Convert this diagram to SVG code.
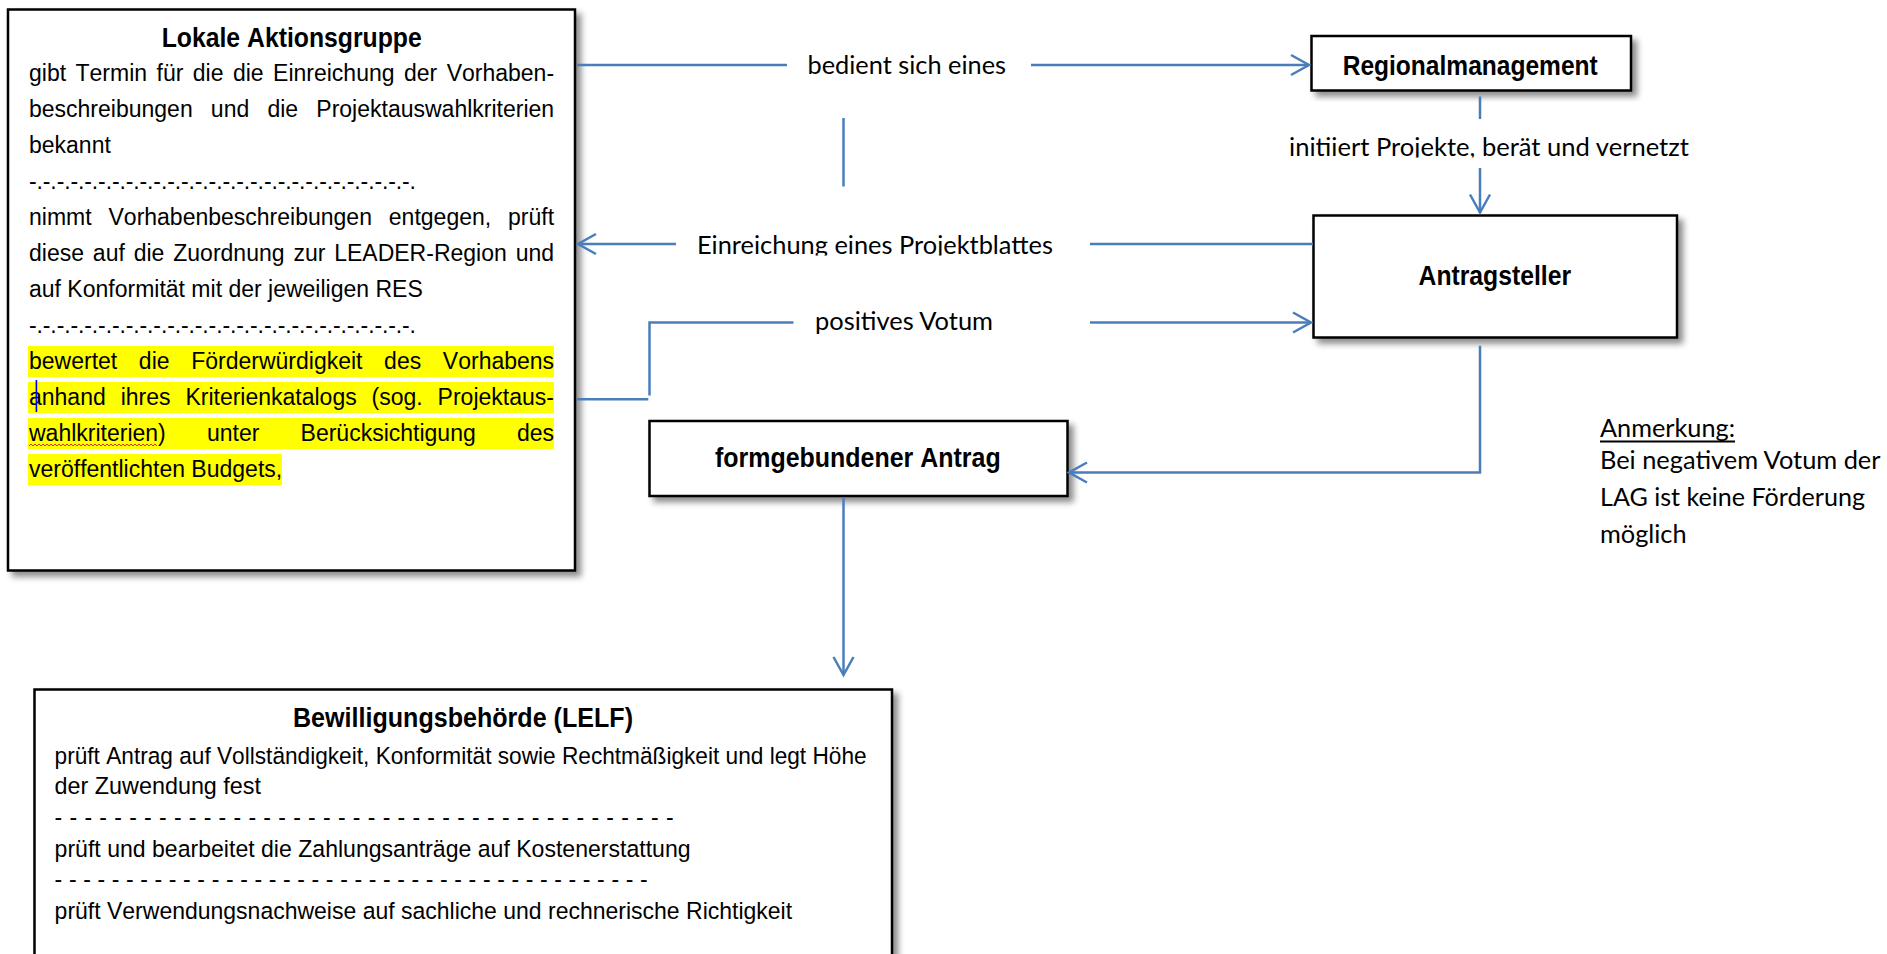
<svg xmlns="http://www.w3.org/2000/svg" width="1887" height="954" viewBox="0 0 1887 954">
<defs>
<filter id="sh" x="-5%" y="-10%" width="115%" height="130%">
<feGaussianBlur in="SourceAlpha" stdDeviation="3"/>
<feOffset dx="5" dy="5" result="b"/>
<feFlood flood-color="#000" flood-opacity="0.45"/>
<feComposite in2="b" operator="in"/>
<feMerge><feMergeNode/><feMergeNode in="SourceGraphic"/></feMerge>
</filter>
<marker id="arr" viewBox="-21 -12 24 24" refX="0" refY="0" markerWidth="24" markerHeight="24" markerUnits="userSpaceOnUse" orient="auto">
<path d="M-18,-10 L0,0 L-18,10" fill="none" stroke="#4A7EBB" stroke-width="2.5"/>
</marker>
<clipPath id="clipE"><rect x="680" y="220" width="400" height="35.5"/></clipPath>
<clipPath id="clipI"><rect x="1270" y="125" width="440" height="32.5"/></clipPath>
</defs>
<style>
.box{fill:#fff;stroke:#000;stroke-width:2.5}
.ln{fill:none;stroke:#4A7EBB;stroke-width:2.5}
.t{font-family:"Liberation Sans",Arial,sans-serif;font-size:23px;fill:#000;font-kerning:none}
.tb{font-family:"Liberation Sans",Arial,sans-serif;font-size:24.5px;fill:#000;font-kerning:none}
.h{font-family:"Liberation Sans",Arial,sans-serif;font-size:27px;font-weight:bold;fill:#000;font-kerning:none}
.l{font-family:Lato,"Liberation Sans",sans-serif;font-size:24.5px;fill:#000}
.hl{fill:#ffff00}
</style>
<rect width="1887" height="954" fill="#fff"/>

<g id="lag">
<rect class="box" x="8" y="9.5" width="567" height="561" filter="url(#sh)"/>
<rect class="hl" x="28" y="346" width="526" height="31"/>
<rect class="hl" x="28" y="382" width="526" height="31"/>
<rect class="hl" x="28" y="418" width="526" height="31"/>
<rect class="hl" x="28" y="454" width="254" height="31"/>
<text class="h" x="291.7" y="47" text-anchor="middle" textLength="260" lengthAdjust="spacingAndGlyphs">Lokale Aktionsgruppe</text>
<text class="t" x="29" y="81" word-spacing="3.05">gibt Termin für die die Einreichung der Vorhaben-</text>
<text class="t" x="29" y="117" word-spacing="11.8">beschreibungen und die Projektauswahlkriterien</text>
<text class="t" x="29" y="153">bekannt</text>
<text class="t" x="29" y="189" textLength="387" lengthAdjust="spacing">-.-.-.-.-.-.-.-.-.-.-.-.-.-.-.-.-.-.-.-.-.-.-.-.-.-.-.-.</text>
<text class="t" x="29" y="225" word-spacing="10.5">nimmt Vorhabenbeschreibungen entgegen, prüft</text>
<text class="t" x="29" y="261" word-spacing="2.48">diese auf die Zuordnung zur LEADER-Region und</text>
<text class="t" x="29" y="297">auf Konformität mit der jeweiligen RES</text>
<text class="t" x="29" y="333" textLength="387" lengthAdjust="spacing">-.-.-.-.-.-.-.-.-.-.-.-.-.-.-.-.-.-.-.-.-.-.-.-.-.-.-.-.</text>
<text class="t" x="29" y="369" word-spacing="15.25">bewertet die Förderwürdigkeit des Vorhabens</text>
<text class="t" x="29" y="405" word-spacing="8.5">anhand ihres Kriterienkatalogs (sog. Projektaus-</text>
<text class="t" x="29" y="441" word-spacing="34.8">wahlkriterien) unter Berücksichtigung des</text>
<text class="t" x="29" y="477">veröffentlichten Budgets,</text>
<line x1="36.4" y1="380" x2="36.4" y2="412" stroke="#0000ff" stroke-width="1.6"/>
<polyline points="29,446 31,444 33,446 35,444 37,446 39,444 41,446 43,444 45,446 47,444 49,446 51,444 53,446 55,444 57,446 59,444 61,446 63,444 65,446 67,444 69,446 71,444 73,446 75,444 77,446 79,444 81,446 83,444 85,446 87,444 89,446 91,444 93,446 95,444 97,446 99,444 101,446 103,444 105,446 107,444 109,446 111,444 113,446 115,444 117,446 119,444 121,446 123,444 125,446 127,444 129,446 131,444 133,446 135,444 137,446 139,444 141,446 143,444 145,446 147,444 149,446 151,444 153,446 155,444 157,446" fill="none" stroke="#e03020" stroke-width="1"/>
</g>

<g id="regionalmanagement">
<rect class="box" x="1311.5" y="36" width="319.5" height="54.5" filter="url(#sh)"/>
<text class="h" x="1470.2" y="75" text-anchor="middle" textLength="255" lengthAdjust="spacingAndGlyphs">Regionalmanagement</text>
</g>

<g id="antragsteller">
<rect class="box" x="1313.5" y="215.5" width="363.5" height="122" filter="url(#sh)"/>
<text class="h" x="1494.8" y="285" text-anchor="middle" textLength="152.5" lengthAdjust="spacingAndGlyphs">Antragsteller</text>
</g>

<g id="antrag">
<rect class="box" x="649.5" y="421" width="418" height="75" filter="url(#sh)"/>
<text class="h" x="857.8" y="467" text-anchor="middle" textLength="285.7" lengthAdjust="spacingAndGlyphs">formgebundener Antrag</text>
</g>

<g id="bewilligung">
<rect class="box" x="34.5" y="689.5" width="857.5" height="300" filter="url(#sh)"/>
<text class="h" x="463" y="727" text-anchor="middle" textLength="340" lengthAdjust="spacingAndGlyphs">Bewilligungsbehörde (LELF)</text>
<text class="tb" x="54.6" y="764" textLength="812" lengthAdjust="spacingAndGlyphs">prüft Antrag auf Vollständigkeit, Konformität sowie Rechtmäßigkeit und legt Höhe</text>
<text class="tb" x="54.6" y="794" textLength="206.4" lengthAdjust="spacingAndGlyphs">der Zuwendung fest</text>
<text class="t" x="54.6" y="825" textLength="619" lengthAdjust="spacing">- - - - - - - - - - - - - - - - - - - - - - - - - - - - - - - - - - -  - - -  - - - -</text>
<text class="tb" x="54.6" y="857" textLength="636" lengthAdjust="spacingAndGlyphs">prüft und bearbeitet die Zahlungsanträge auf Kostenerstattung</text>
<text class="t" x="54.6" y="887" textLength="593" lengthAdjust="spacing">- - - - - - - - - - - - - - - - - - - - - - - - - - - - - - - - - - - - - - - - - -</text>
<text class="tb" x="54.6" y="919" textLength="737.5" lengthAdjust="spacingAndGlyphs">prüft Verwendungsnachweise auf sachliche und rechnerische Richtigkeit</text>
</g>

<g id="anmerkung">
<text class="l" x="1600" y="436.5" textLength="135" lengthAdjust="spacingAndGlyphs">Anmerkung:</text>
<line x1="1600" y1="441.5" x2="1735" y2="441.5" stroke="#000" stroke-width="1.8"/>
<text class="l" x="1600" y="469" textLength="280.5" lengthAdjust="spacingAndGlyphs">Bei negativem Votum der</text>
<text class="l" x="1600" y="506" textLength="265" lengthAdjust="spacingAndGlyphs">LAG ist keine Förderung</text>
<text class="l" x="1600" y="543" textLength="86.6" lengthAdjust="spacingAndGlyphs">möglich</text>
</g>

<g id="connectors">
<line class="ln" x1="577" y1="65" x2="787" y2="65"/>
<line class="ln" x1="1031" y1="65" x2="1309" y2="65" marker-end="url(#arr)"/>
<text class="l" x="807.5" y="74" textLength="198.5" lengthAdjust="spacingAndGlyphs">bedient sich eines</text>
<line class="ln" x1="843.5" y1="118" x2="843.5" y2="186.5"/>
<line class="ln" x1="1480" y1="96.5" x2="1480" y2="119"/>
<text class="l" x="1289" y="156" textLength="400" lengthAdjust="spacingAndGlyphs" clip-path="url(#clipI)">initiiert Projekte, berät und vernetzt</text>
<line class="ln" x1="1480" y1="168" x2="1480" y2="212.5" marker-end="url(#arr)"/>
<line class="ln" x1="1313" y1="244" x2="1090" y2="244"/>
<text class="l" x="697" y="254" textLength="356" lengthAdjust="spacingAndGlyphs" clip-path="url(#clipE)">Einreichung eines Projektblattes</text>
<line class="ln" x1="676" y1="244" x2="578" y2="244" marker-end="url(#arr)"/>
<line class="ln" x1="577" y1="399.3" x2="648.3" y2="399.3"/>
<polyline class="ln" points="649.5,395.5 649.5,322.5 793.5,322.5"/>
<text class="l" x="815" y="329.5" textLength="178" lengthAdjust="spacingAndGlyphs">positives Votum</text>
<line class="ln" x1="1090" y1="322.5" x2="1311" y2="322.5" marker-end="url(#arr)"/>
<polyline class="ln" points="1480,345.7 1480,472.5 1069,472.5" marker-end="url(#arr)"/>
<line class="ln" x1="843.5" y1="497" x2="843.5" y2="675" marker-end="url(#arr)"/>
</g>
</svg>
